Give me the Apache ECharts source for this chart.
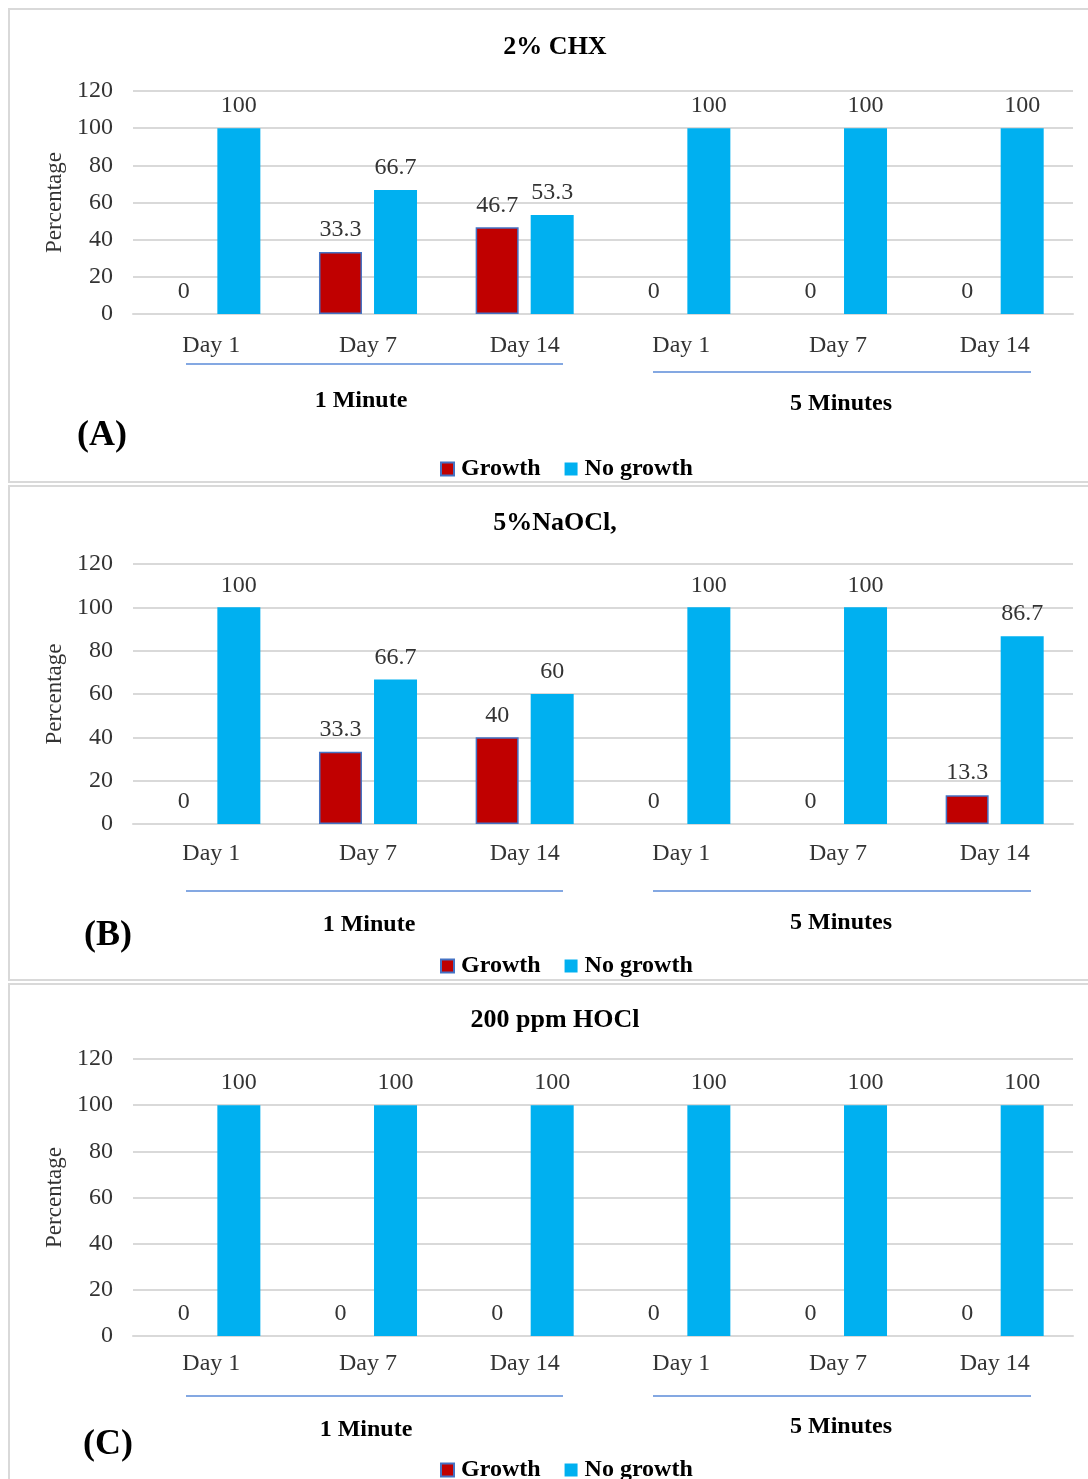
<!DOCTYPE html>
<html>
<head>
<meta charset="utf-8">
<script src="https://cdn.jsdelivr.net/npm/echarts@6/dist/echarts.min.js"></script>
<style>
html,body{margin:0;padding:0;background:#fff;}
#chart{width:1088px;height:1479px;}
</style>
</head>
<body>
<div id="chart"></div>
<script>
// ---- data ----
var categories = ['Day 1', 'Day 7', 'Day 14', 'Day 1', 'Day 7', 'Day 14'];
var groupLabels = ['1 Minute', '5 Minutes'];
var panelTitles = ['2% CHX', '5%NaOCl,', '200 ppm HOCl'];
var panelLetters = ['(A)', '(B)', '(C)'];
var yTicks = [0, 20, 40, 60, 80, 100, 120];
var seriesNames = ['Growth', 'No growth'];

var chxGrowth = [0, 33.3, 46.7, 0, 0, 0];
var chxNoGrowth = [100, 66.7, 53.3, 100, 100, 100];
var naoclGrowth = [0, 33.3, 40, 0, 0, 13.3];
var naoclNoGrowth = [100, 66.7, 60, 100, 100, 86.7];
var hoclGrowth = [0, 0, 0, 0, 0, 0];
var hoclNoGrowth = [100, 100, 100, 100, 100, 100];

var growthData = [chxGrowth, naoclGrowth, hoclGrowth];
var noGrowthData = [chxNoGrowth, naoclNoGrowth, hoclNoGrowth];

// ---- layout (pixels) ----
var SERIF = '"Liberation Serif", "Times New Roman", serif';
var panels = [
  {boxTop: 9, boxBottom: 482, titleY: 45, gridTop: 91, gridH: 223, xMargin: 20, lineY1: 364, lineY2: 372, g1Y: 401, g2Y: 404, g1X: 361, letterX: 102, letterY: 436, legendY: 467},
  {boxTop: 486, boxBottom: 980, titleY: 521, gridTop: 564, gridH: 260, xMargin: 18, lineY1: 891, lineY2: 891, g1Y: 925, g2Y: 923, g1X: 369, letterX: 108, letterY: 936, legendY: 964},
  {boxTop: 984, boxBottom: 1490, titleY: 1018, gridTop: 1059, gridH: 277, xMargin: 16, lineY1: 1396, lineY2: 1396, g1Y: 1430, g2Y: 1427, g1X: 366, letterX: 108, letterY: 1445, legendY: 1468}
];

var grids = [], xAxes = [], yAxes = [], series = [], titles = [], legends = [], graphics = [];
var tickColor = '#333';

panels.forEach(function (p, i) {
  grids.push({left: 133, width: 940, top: p.gridTop, height: p.gridH, containLabel: false});
  xAxes.push({
    type: 'category', gridIndex: i, data: categories,
    axisLine: {lineStyle: {color: '#d9d9d9', width: 2}},
    axisTick: {show: false},
    axisLabel: {color: tickColor, fontFamily: SERIF, fontSize: 24, margin: p.xMargin, interval: 0}
  });
  yAxes.push({
    type: 'value', gridIndex: i, min: 0, max: 120, interval: 20,
    name: 'Percentage', nameLocation: 'middle', nameGap: 66,
    nameTextStyle: {color: tickColor, fontFamily: SERIF, fontSize: 23},
    axisLine: {show: false}, axisTick: {show: false},
    axisLabel: {color: tickColor, fontFamily: SERIF, fontSize: 24, margin: 20},
    splitLine: {lineStyle: {color: '#d9d9d9', width: 2}}
  });
  var lbl = {show: true, position: 'top', distance: 10, color: tickColor, fontFamily: SERIF, fontSize: 24};
  series.push({
    name: seriesNames[0], type: 'bar', xAxisIndex: i, yAxisIndex: i,
    data: growthData[i].map(function (v) {
      return v === 0 ? {value: v, itemStyle: {borderWidth: 0}} : v;
    }),
    barWidth: 43, barGap: '28%',
    itemStyle: {color: '#C00000', borderColor: '#4472C4', borderWidth: 1.5},
    label: lbl
  });
  series.push({
    name: seriesNames[1], type: 'bar', xAxisIndex: i, yAxisIndex: i,
    data: noGrowthData[i], barWidth: 43, barGap: '28%',
    itemStyle: {color: '#00B0F0'},
    label: lbl
  });
  titles.push({
    text: panelTitles[i], left: 550, top: p.titleY - 3, textAlign: 'center', textVerticalAlign: 'middle',
    textStyle: {fontFamily: SERIF, fontSize: 26, fontWeight: 'bold', color: '#000'}
  });
  legends.push({
    data: seriesNames, left: 435, top: p.legendY - 15, itemWidth: 13, itemHeight: 13, itemGap: 24,
    icon: 'rect',
    textStyle: {fontFamily: SERIF, fontSize: 24, fontWeight: 'bold', color: '#000', padding: [0, 0, 0, 2]}
  });
  // panel border
  graphics.push({type: 'rect', shape: {x: 9, y: p.boxTop, width: 1090, height: p.boxBottom - p.boxTop},
    style: {fill: null, stroke: '#d9d9d9', lineWidth: 2}, silent: true});
  // group underline
  graphics.push({type: 'line', shape: {x1: 186, y1: p.lineY1, x2: 563, y2: p.lineY1},
    style: {stroke: '#5B8BD9', lineWidth: 1.5}, silent: true});
  graphics.push({type: 'line', shape: {x1: 653, y1: p.lineY2, x2: 1031, y2: p.lineY2},
    style: {stroke: '#5B8BD9', lineWidth: 1.5}, silent: true});
  graphics.push({type: 'text', x: p.g1X, y: p.g1Y, style: {text: groupLabels[0], font: 'bold 24px ' + SERIF,
    fill: '#000', textAlign: 'center', textVerticalAlign: 'middle'}, silent: true});
  graphics.push({type: 'text', x: 841, y: p.g2Y, style: {text: groupLabels[1], font: 'bold 24px ' + SERIF,
    fill: '#000', textAlign: 'center', textVerticalAlign: 'middle'}, silent: true});
  graphics.push({type: 'text', x: p.letterX, y: p.letterY, style: {text: panelLetters[i], font: 'bold 36px ' + SERIF,
    fill: '#000', textAlign: 'center', textVerticalAlign: 'middle'}, silent: true});
});

var chart = echarts.init(document.getElementById('chart'), null, {renderer: 'canvas'});
chart.setOption({
  backgroundColor: '#fff',
  animation: false,
  title: titles,
  legend: legends,
  grid: grids,
  xAxis: xAxes,
  yAxis: yAxes,
  series: series,
  graphic: graphics
});
</script>
</body>
</html>
